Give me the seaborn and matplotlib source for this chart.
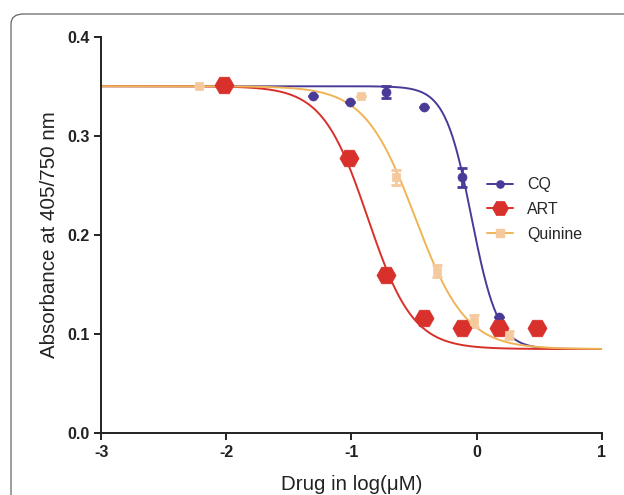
import numpy as np
import pandas as pd
import matplotlib
matplotlib.use("Agg")
import matplotlib.pyplot as plt
import seaborn as sns
from matplotlib.patches import FancyBboxPatch

# measured points (log uM, absorbance 405/750)
cq_logx = [-1.31, -1.01, -0.72, -0.42, -0.12, 0.18]
cq_abs = [0.340, 0.334, 0.344, 0.329, 0.258, 0.117]
cq_err = [0.0, 0.0, 0.006, 0.0, 0.010, 0.0]

art_logx = [-2.02, -1.02, -0.72, -0.42, -0.12, 0.18, 0.48]
art_abs = [0.351, 0.278, 0.160, 0.116, 0.106, 0.106, 0.106]

quinine_logx = [-2.22, -0.92, -0.64, -0.32, -0.02, 0.26]
quinine_abs = [0.350, 0.340, 0.258, 0.164, 0.113, 0.099]
quinine_err = [0.0, 0.0, 0.008, 0.006, 0.006, 0.004]

# fitted dose-response parameters: top, bottom, logIC50, hill slope
fit_top = [0.350, 0.350, 0.350]
fit_bottom = [0.085, 0.085, 0.085]
fit_logic50 = [-0.04, -0.87, -0.49]
fit_hill = [4.1, 2.4, 2.15]

drugs = ["CQ", "ART", "Quinine"]
line_colors = ["#4a3a98", "#d8302a", "#f0b457"]
marker_colors = ["#4a3a98", "#d8302a", "#f5c99c"]
markers = ["o", "H", "s"]
marker_sizes = [42, 190, 40]

sns.set_style("ticks")
plt.rcParams['font.family'] = ['Liberation Sans', 'DejaVu Sans']

fig = plt.figure(figsize=(6.24, 4.95), dpi=100)
ax = fig.add_axes([0.162, 0.1246, 0.8023, 0.8014])

# rounded frame around the figure
frame = FancyBboxPatch((11 / 624, -0.2), 1.2, 0.9717 + 0.2,
                       boxstyle="round,pad=0,rounding_size=0.02",
                       transform=fig.transFigure, fill=False,
                       edgecolor="#666666", linewidth=0.9, clip_on=False)
fig.patches.append(frame)

xs = np.linspace(-3, 1, 400)
points = {"CQ": (cq_logx, cq_abs, cq_err),
          "ART": (art_logx, art_abs, None),
          "Quinine": (quinine_logx, quinine_abs, quinine_err)}

# curves first
for i, d in enumerate(drugs):
    ys = fit_bottom[i] + (fit_top[i] - fit_bottom[i]) / (1 + 10 ** ((xs - fit_logic50[i]) * fit_hill[i]))
    curve = pd.DataFrame({"x": xs, "y": ys})
    sns.lineplot(data=curve, x="x", y="y", color=line_colors[i], lw=1.4, ax=ax, zorder=2)

handles = []
for i, d in enumerate(drugs):
    x, y, e = points[d]
    df = pd.DataFrame({"x": x, "y": y})
    if e is not None:
        ax.errorbar(x, y, yerr=e, fmt="none", ecolor=marker_colors[i], elinewidth=2.0,
                    capsize=3.5, capthick=2.0, zorder=3)
    sns.scatterplot(data=df, x="x", y="y", marker=markers[i], s=marker_sizes[i],
                    color=marker_colors[i], edgecolor=marker_colors[i], linewidth=0.5,
                    ax=ax, zorder=4)
    h, = ax.plot([], [], color=line_colors[i], lw=1.4, marker=markers[i],
                 markersize=np.sqrt(marker_sizes[i]) * 0.8,
                 markerfacecolor=marker_colors[i], markeredgecolor=marker_colors[i], label=d)
    handles.append(h)

ax.set_xlim(-3, 1)
ax.set_ylim(0, 0.4)
ax.set_xticks([-3, -2, -1, 0, 1])
ax.set_xticklabels(["-3", "-2", "-1", "0", "1"])
ax.set_yticks([0.0, 0.1, 0.2, 0.3, 0.4])
ax.set_yticklabels(["0.0", "0.1", "0.2", "0.3", "0.4"])
ax.tick_params(labelsize=11.5, width=1.4, length=5, color="#222222", labelcolor="#222222")
for lab in ax.get_xticklabels() + ax.get_yticklabels():
    lab.set_fontweight("bold")
ax.set_xlabel("Drug in log(μM)", fontsize=14.8, color="#222222", labelpad=11)
ax.set_ylabel("Absorbance at 405/750 nm", fontsize=14.8, color="#222222", labelpad=6)
for s in ["left", "bottom"]:
    ax.spines[s].set_linewidth(1.4)
    ax.spines[s].set_color("#222222")
sns.despine(ax=ax)

ax.legend(handles=handles, loc="upper left", bbox_to_anchor=(473 / 624, 1 - 163 / 495),
          bbox_transform=fig.transFigure, frameon=False, fontsize=11.5,
          handlelength=1.6, handletextpad=0.9, labelspacing=0.6)

fig.savefig("out.png", dpi=100)
